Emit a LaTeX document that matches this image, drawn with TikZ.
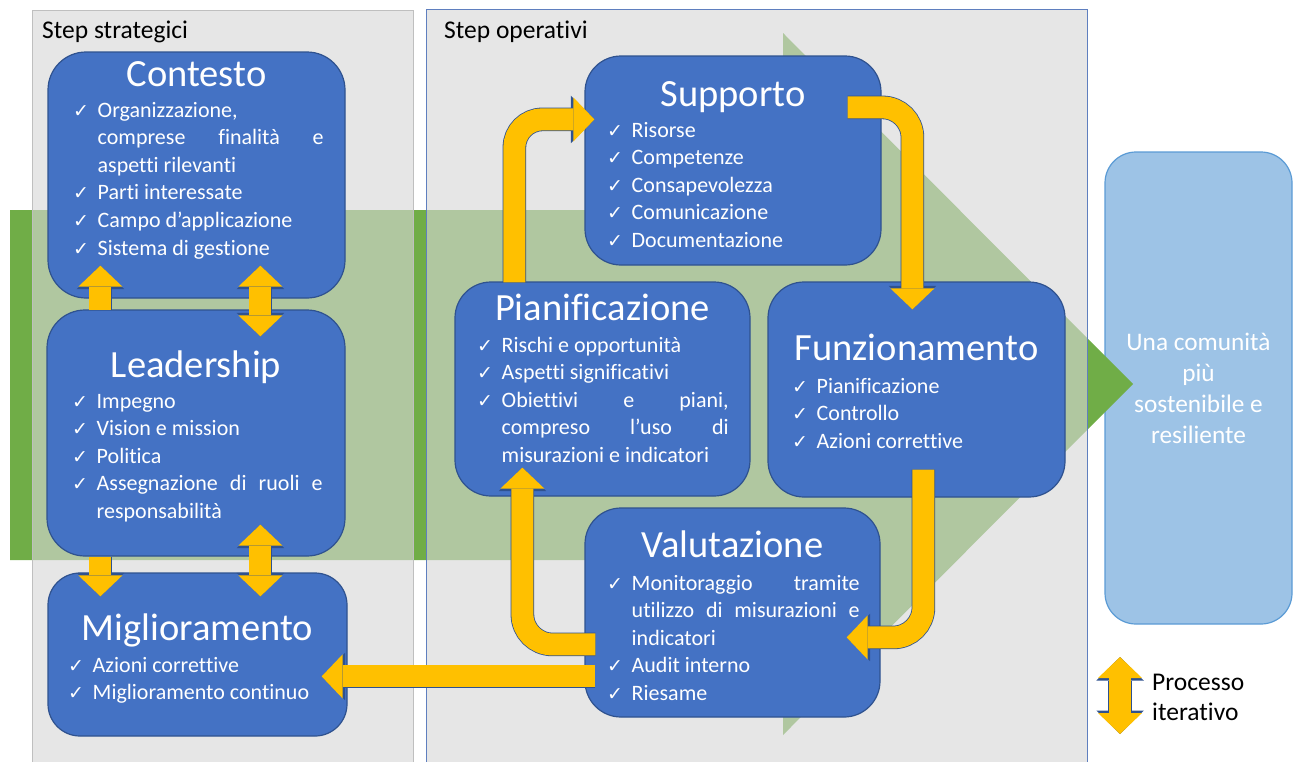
\documentclass[tikz,border=0pt]{standalone}
\usepackage{fontspec}
\setmainfont{Carlito}[Ligatures=NoCommon]
\newfontfamily\dejavu{DejaVu Sans}
\usetikzlibrary{arrows.meta,calc}
\definecolor{boxblue}{HTML}{4472C4}
\definecolor{boxedge}{HTML}{2F528F}
\definecolor{ylw}{HTML}{FFC000}
\definecolor{grn}{HTML}{70AD47}
\definecolor{panelgray}{RGB}{215,215,215}
\definecolor{comfill}{HTML}{9DC3E6}
\definecolor{comedge}{HTML}{5B9BD5}
\definecolor{paneledgeL}{HTML}{BFBFBF}
\definecolor{paneledgeR}{HTML}{5F7FBF}
\newcommand{\ck}{\makebox[24.5pt][l]{\dejavu\fontsize{19}{19}\selectfont ✓}}
\newcommand{\ind}{\hspace*{24.5pt}}
\newcommand{\boxlist}[2]{\parbox[t]{#1}{\fontsize{22}{27.6}\selectfont #2}}
\tikzset{
  box/.style={draw=boxedge, line width=1.2pt, fill=boxblue, rounded corners=#1, inner sep=0pt},
  box/.default=36pt,
  ttl/.style={anchor=base, inner sep=0pt, text=white, font=\fontsize{38.5}{46}\selectfont},
  lst/.style={anchor=base west, inner sep=0pt, text=white},
  panel/.style={anchor=north west, inner sep=0pt, fill=panelgray, fill opacity=0.625, line width=1pt},
  plabel/.style={anchor=base west, inner sep=0pt, font=\fontsize{25.5}{30}\selectfont},
  yarr/.style={preaction={draw=boxedge, line width=23.6pt, -{Triangle[length=23.5pt,width=47.5pt,line width=0pt]}},
    draw=ylw, line width=22pt, rounded corners=#1, -{Triangle[length=21pt,width=44pt,line width=0pt]}},
  yarr/.default=28pt,
  yarrb/.style={preaction={draw=boxedge, line width=23.6pt, {Triangle[length=23.5pt,width=47.5pt,line width=0pt]}-{Triangle[length=23.5pt,width=47.5pt,line width=0pt]}},
    draw=ylw, line width=22pt, {Triangle[length=21pt,width=44pt,line width=0pt]}-{Triangle[length=21pt,width=44pt,line width=0pt]}},
}
\begin{document}
\begin{tikzpicture}[x=1pt,y=-1pt]
\useasboundingbox (0,0) rectangle (1298,761);
% outcome box
\node[draw=comedge, line width=1.2pt, fill=comfill, rounded corners=31pt, minimum width=187pt, minimum height=472pt, inner sep=0pt] (com) at (1198.5,388) {};
% big green arrow
\fill[grn] (10,210) -- (783,210) -- (783,33) -- (1133,384) -- (783,735) -- (783,560) -- (10,560) -- cycle;
% panels
\node[panel, draw=paneledgeL, minimum width=381pt, minimum height=760pt] (pl) at (32,10) {};
\node[panel, draw=paneledgeR, minimum width=661pt, minimum height=760pt] (pr) at (426,9) {};
\node[plabel] (plT) at (42,38) {Step strategici};
\node[plabel] (prT) at (444,38) {Step operativi};
% boxes
\node[box=38pt, minimum width=297pt, minimum height=246pt] (ctx) at (196.5,175) {};
\node[box=38pt, minimum width=298pt, minimum height=246pt] (ldr) at (196,433) {};
\node[box=32pt, minimum width=299pt, minimum height=163pt] (mig) at (197.5,654.5) {};
\node[box, minimum width=296pt, minimum height=209pt] (sup) at (733,160.5) {};
\node[box, minimum width=295pt, minimum height=214pt] (pia) at (602.5,389) {};
\node[box, minimum width=297pt, minimum height=215pt] (fun) at (916.5,389.5) {};
\node[box, minimum width=295pt, minimum height=209pt] (val) at (732.5,612.5) {};
% titles
\node[ttl] (ctxT) at (196.5,86) {Contesto};
\node[ttl] (ldrT) at (196,377) {Leadership};
\node[ttl] (migT) at (197.5,640) {Miglioramento};
\node[ttl] (supT) at (733,106) {Supporto};
\node[ttl] (piaT) at (602.5,320) {Pianificazione};
\node[ttl] (funT) at (916.5,360) {Funzionamento};
\node[ttl] (valT) at (732.5,557) {Valutazione};
% lists
\node[lst] (ctxL) at (73,117) {\boxlist{280pt}{\ck Organizzazione,\\
\ind\hbox to 226pt{comprese\hfill finalità\hfill e}\\
\ind aspetti rilevanti\\
\ck Parti interessate\\
\ck Campo d’applicazione\\
\ck Sistema di gestione}};
\node[lst] (ldrL) at (72,408) {\boxlist{280pt}{\ck Impegno\\
\ck Vision e mission\\
\ck Politica\\
\ck\hbox to 226pt{Assegnazione\hfill di\hfill ruoli\hfill e}\\
\ind responsabilità}};
\node[lst] (migL) at (68,672) {\boxlist{280pt}{\ck Azioni correttive\\
\ck Miglioramento continuo}};
\node[lst] (supL) at (607,137) {\boxlist{260pt}{\ck Risorse\\
\ck Competenze\\
\ck Consapevolezza\\
\ck Comunicazione\\
\ck Documentazione}};
\node[lst] (piaL) at (477,352) {\boxlist{280pt}{\ck Rischi e opportunità\\
\ck Aspetti significativi\\
\ck\hbox to 227pt{Obiettivi\hfill e\hfill piani,}\\
\ind\hbox to 227pt{compreso\hfill l’uso\hfill di}\\
\ind misurazioni e indicatori}};
\node[lst] (funL) at (792,393) {\boxlist{260pt}{\ck Pianificazione\\
\ck Controllo\\
\ck Azioni correttive}};
\node[lst] (valL) at (607,590) {\boxlist{280pt}{\ck\hbox to 228pt{Monitoraggio\hfill tramite}\\
\ind\hbox to 228pt{utilizzo\hfill di\hfill misurazioni\hfill e}\\
\ind indicatori\\
\ck Audit interno\\
\ck Riesame}};
\node[anchor=base, inner sep=0pt, text=white] (comT) at (1198.5,350) {\parbox[t]{185pt}{\centering\fontsize{25.3}{31}\selectfont Una comunità\\più\\sostenibile e\\resiliente}};
% strategic arrows
\draw[yarr] ($(ldr.north west)+(54,1)$) -- ($(ctx.south west)+(53,-33)$);
\draw[yarrb] ($(ctx.south west)+(213,-33)$) -- ($(ldr.north west)+(214,27)$);
\draw[yarr] ($(ldr.south west)+(54,0)$) -- ($(mig.north west)+(53,24)$);
\draw[yarrb] ($(ldr.south west)+(214,-32)$) -- ($(mig.north west)+(213,24)$);
% operational loop
\draw[yarr] ($(pia.north west)+(60,1)$) |- ($(sup.north west)+(10,64)$);
\draw[yarr=30pt] ($(sup.north east)+(-34,52)$) -| ($(fun.north west)+(145,28)$);
\draw[yarr=30pt] ($(fun.south west)+(156,-28)$) |- ($(val.north east)+(-34,130)$);
\draw[yarr=30pt] ($(val.north west)+(11,137)$) -| ($(pia.south west)+(68,-29)$);
\draw[yarr] ($(val.north west)+(11,169)$) -- ($(mig.north east)+(-26,104)$);
% legend
\coordinate (legA) at (1120,657);
\coordinate (legB) at (1120,734);
\draw[yarrb] (legA) -- (legB);
\node[anchor=base west, inner sep=0pt] (legT) at (1152,690) {\parbox[t]{130pt}{\fontsize{25.5}{30}\selectfont Processo\\iterativo}};
\end{tikzpicture}
\end{document}
